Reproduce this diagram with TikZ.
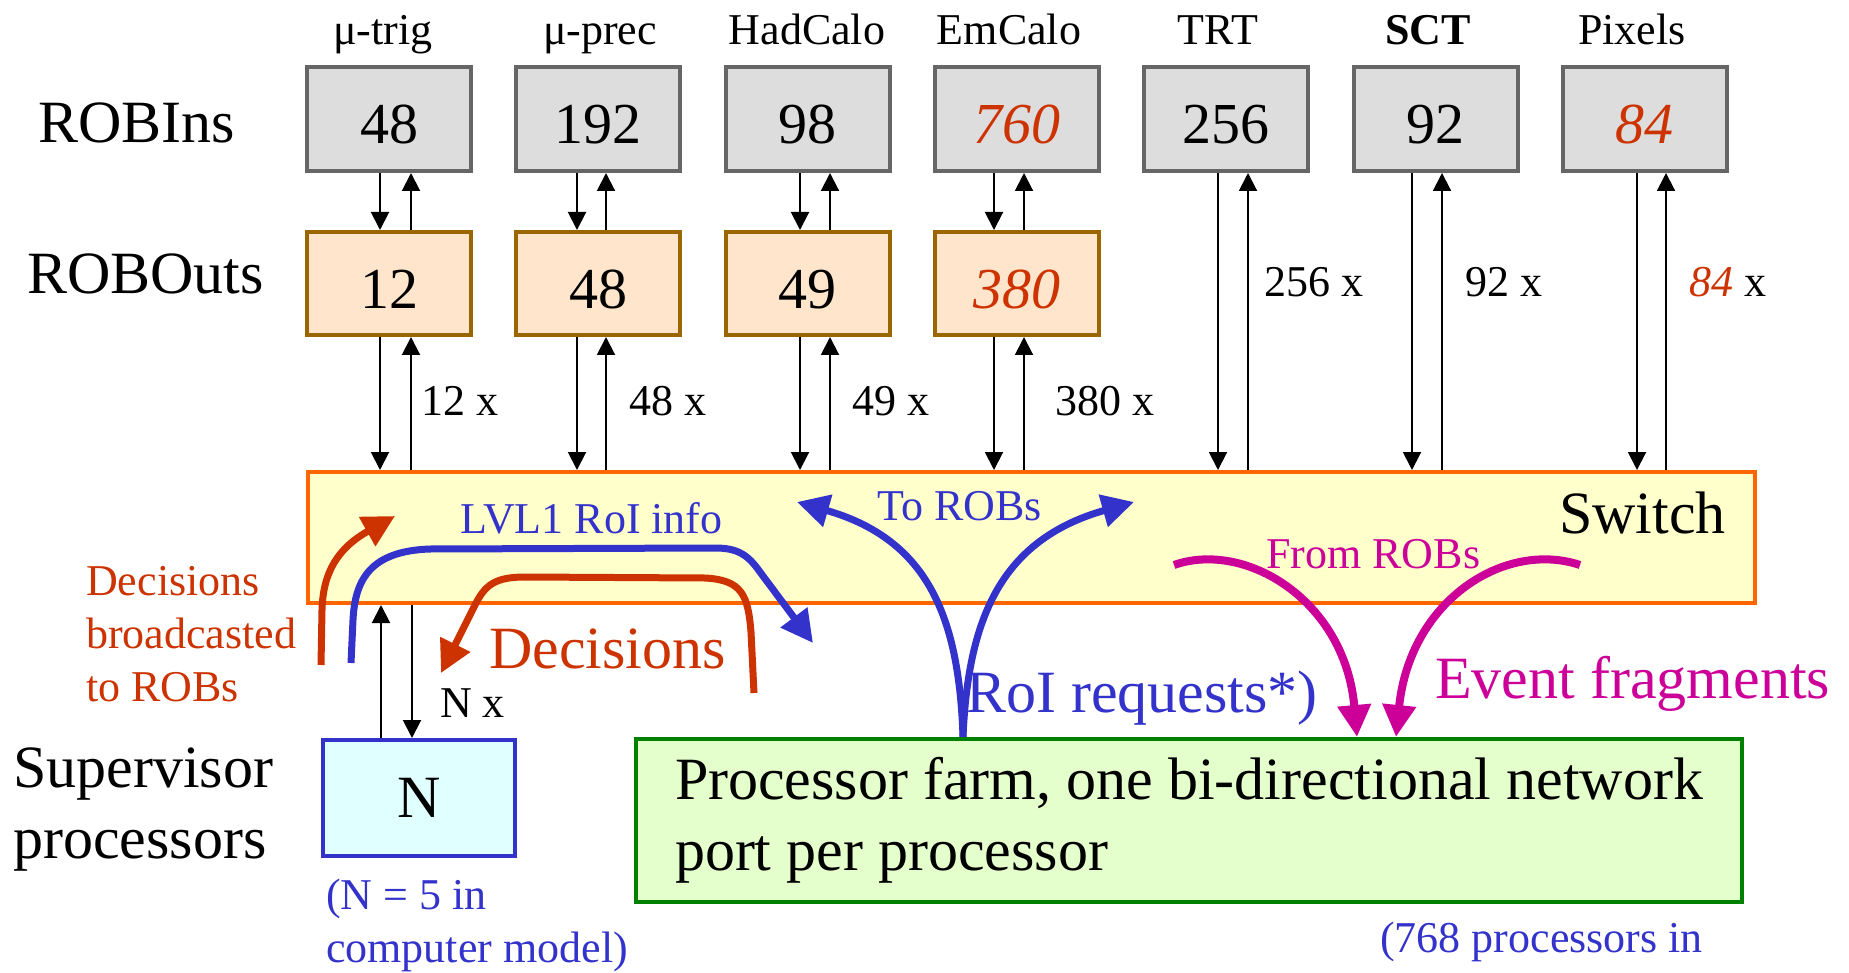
\documentclass[tikz,border=0pt]{standalone}
\usepackage{fontspec}
\setmainfont{Liberation Serif}
\usetikzlibrary{arrows.meta}
\definecolor{cRed}{RGB}{204,51,0}
\definecolor{cBlue}{RGB}{51,51,204}
\definecolor{cMag}{RGB}{204,0,153}
\definecolor{cInFill}{RGB}{221,221,221}
\definecolor{cInLine}{RGB}{102,102,102}
\definecolor{cOutFill}{RGB}{255,229,204}
\definecolor{cOutLine}{RGB}{153,102,0}
\definecolor{cSwFill}{RGB}{255,255,204}
\definecolor{cSwLine}{RGB}{255,102,0}
\definecolor{cSupFill}{RGB}{224,255,255}
\definecolor{cFarmFill}{RGB}{229,255,204}
\definecolor{cFarmLine}{RGB}{0,128,0}
\newcommand{\fBig}{\fontsize{60}{71}\selectfont}
\newcommand{\fBox}{\fontsize{58}{70}\selectfont}
\newcommand{\fSmall}{\fontsize{44}{53}\selectfont}
\begin{document}
\begin{tikzpicture}[x=1pt,y=-1pt,
  robin/.style={draw=cInLine, fill=cInFill, line width=4pt, minimum width=164pt, minimum height=104pt, inner sep=0pt, font=\fBox, text height=50pt, text depth=0pt},
  robout/.style={draw=cOutLine, fill=cOutFill, line width=4pt, minimum width=164pt, minimum height=103pt, inner sep=0pt, font=\fBox, text height=50pt, text depth=0pt},
  hdr/.style={font=\fSmall, anchor=base, inner sep=0pt},
  lbl/.style={font=\fSmall, anchor=base west, inner sep=0pt, align=left},
  biglbl/.style={font=\fBig, anchor=base west, inner sep=0pt, align=left},
  tarr/.style={line width=2pt, -{Triangle[length=18pt,width=18pt]}},
  bigarr/.style={line width=7pt, -{Triangle[length=32pt,width=32pt]}},
  magarr/.style={line width=8pt, draw=cMag, -{Triangle[length=32pt,width=32pt]}},
]
\useasboundingbox (0,0) rectangle (1849,973);

% headers
\node[hdr] (h1) at (383,45) {μ-trig};
\node[hdr] (h2) at (600,45) {μ-prec};
\node[hdr] (h3) at (807,45) {HadCalo};
\node[hdr] (h4) at (1009,45) {EmCalo};
\node[hdr] (h5) at (1218,45) {TRT};
\node[hdr] (h6) at (1428,45) {\textbf{SCT}};
\node[hdr] (h7) at (1632,45) {Pixels};

% row labels
\node[biglbl] (lin) at (38,143) {ROBIns};
\node[biglbl] (lout) at (27,294) {ROBOuts};

% ROBIns
\node[robin] (in1) at (389,119) {48};
\node[robin] (in2) at (598.3,119) {192};
\node[robin] (in3) at (807.6,119) {98};
\node[robin, text=cRed, font=\fBox\itshape] (in4) at (1016.9,119) {760};
\node[robin] (in5) at (1226.2,119) {256};
\node[robin] (in6) at (1435.5,119) {92};
\node[robin, text=cRed, font=\fBox\itshape] (in7) at (1644.8,119) {84};

% ROBOuts
\node[robout] (out1) at (389,283.5) {12};
\node[robout] (out2) at (598.3,283.5) {48};
\node[robout] (out3) at (807.6,283.5) {49};
\node[robout, text=cRed, font=\fBox\itshape] (out4) at (1016.9,283.5) {380};

% switch
\node[draw=cSwLine, fill=cSwFill, line width=4pt, minimum width=1447pt, minimum height=131pt, inner sep=0pt] (sw) at (1031.5,537.5) {};
\node[biglbl] (swl) at (1559,533) {Switch};

% arrow columns
\coordinate (d1) at (380,0);  \coordinate (u1) at (411,0);
\coordinate (d2) at (577,0);  \coordinate (u2) at (606,0);
\coordinate (d3) at (800,0);  \coordinate (u3) at (830,0);
\coordinate (d4) at (994,0);  \coordinate (u4) at (1024,0);
\coordinate (d5) at (1218,0); \coordinate (u5) at (1248,0);
\coordinate (d6) at (1412,0); \coordinate (u6) at (1442,0);
\coordinate (d7) at (1637,0); \coordinate (u7) at (1666,0);

\foreach \i in {1,...,4}{
  \draw[tarr] (in\i.south -| d\i) -- (out\i.north -| d\i);
  \draw[tarr] (out\i.north -| u\i) -- (in\i.south -| u\i);
  \draw[tarr] (out\i.south -| d\i) -- (sw.north -| d\i);
  \draw[tarr] (sw.north -| u\i) -- (out\i.south -| u\i);
}
\foreach \i in {5,6,7}{
  \draw[tarr] (in\i.south -| d\i) -- (sw.north -| d\i);
  \draw[tarr] (sw.north -| u\i) -- (in\i.south -| u\i);
}

% multiplicity labels
\node[lbl] (m1) at (421,415) {12 x};
\node[lbl] (m2) at (629,415) {48 x};
\node[lbl] (m3) at (852,415) {49 x};
\node[lbl] (m4) at (1055,415) {380 x};
\node[lbl] (m5) at (1264,297) {256 x};
\node[lbl] (m6) at (1465,297) {92 x};
\node[lbl] (m7) at (1689,297) {{\color{cRed}\itshape 84} x};

% supervisor
\node[biglbl] (lsup) at (13,858) {Supervisor\\processors};
\node[draw=cBlue, fill=cSupFill, line width=4pt, minimum width=192pt, minimum height=116pt, inner sep=0pt, font=\fBig] (sup) at (419,798) {N};
\coordinate (nu) at (381,0); \coordinate (nd) at (412,0);
\draw[tarr] (sup.north -| nu) -- (sw.south -| nu);
\draw[tarr] (sw.south -| nd) -- (sup.north -| nd);
\node[lbl] (nx) at (440,717) {N x};
\node[lbl, text=cBlue] (nnote) at (326,962) {(N = 5 in\\computer model)};

% farm
\node[draw=cFarmLine, fill=cFarmFill, line width=4pt, minimum width=1106pt, minimum height=163pt, inner sep=0pt, font=\fBig, align=left] (farm) at (1189,820.5) {Processor farm, one bi-directional network\\port per processor};
\node[lbl, text=cBlue] (fnote) at (1380,952) {(768 processors in};

% texts in/around switch
\node[lbl, text=cBlue] (lvl1) at (460,533) {LVL1 RoI info};
\node[lbl, text=cBlue] (torobs) at (877,520) {To ROBs};
\node[lbl, text=cMag] (fromrobs) at (1266,568) {From ROBs};
\node[lbl, text=cRed] (decb) at (86,701) {Decisions\\broadcasted\\to ROBs};
\node[biglbl, text=cRed] (dec) at (489,668) {Decisions};
\node[biglbl, text=cBlue] (roireq) at (966,712) {RoI requests*)};
\node[biglbl, text=cMag] (evfr) at (1435,698) {Event fragments};

% thick curved arrows
\coordinate (rb) at (321,665);
\coordinate (lv) at (351,663);
\coordinate (dc) at (754,693);
\coordinate (rq) at (963,0);
\coordinate (ml) at (1174,565);
\coordinate (mr) at (1580,565);
\coordinate (mlt) at (1357,0);
\coordinate (mrt) at (1396,0);

\draw[bigarr, draw=cRed] (rb) -- (322,610) .. controls (323,572) and (338,548) .. (395,516);
\draw[bigarr, draw=cBlue] (lv) -- (353,620) .. controls (355,580) and (370,551) .. (430,549) -- (715,548) .. controls (738,548) and (748,555) .. (760,572) -- (813,643);
\draw[bigarr, draw=cRed] (dc) -- (751,632) .. controls (748,595) and (742,580) .. (705,578) -- (525,577) .. controls (495,577) and (485,585) .. (475,605) -- (441,673);
\draw[bigarr, draw=cBlue] (farm.north -| rq) .. controls (959,620) and (930,540) .. (797,502);
\draw[bigarr, draw=cBlue] (farm.north -| rq) .. controls (968,620) and (1000,540) .. (1134,502);
\draw[magarr] (ml) .. controls (1245,540) and (1345,600) .. (farm.north -| mlt);
\draw[magarr] (mr) .. controls (1505,540) and (1410,600) .. (farm.north -| mrt);
\end{tikzpicture}
\end{document}
